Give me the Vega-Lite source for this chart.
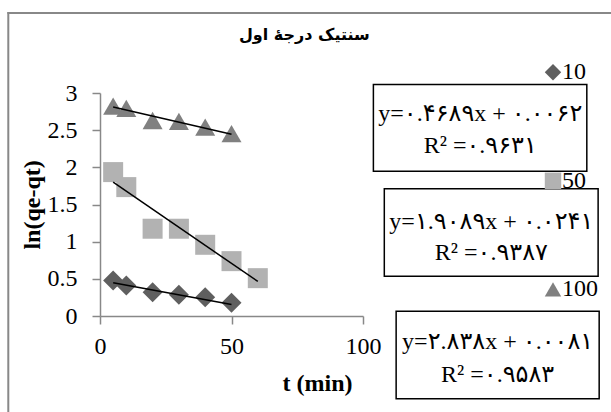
{
  "$schema": "https://vega.github.io/schema/vega-lite/v6.json",
  "width": 263,
  "height": 223,
  "autosize": {"type": "none"},
  "padding": {"left": 100, "top": 93, "right": 248, "bottom": 96},
  "background": "white",
  "config": {
    "view": {"stroke": null},
    "axis": {
      "grid": false, "domainColor": "#888888", "domainWidth": 1.5, "tickColor": "#888888", "tickWidth": 1.5, "tickSize": 8,
      "labelFont": "Liberation Serif", "labelFontSize": 24, "labelColor": "black",
      "labelFlush": false, "labelOverlap": false, "labelBound": false,
      "titleFont": "Liberation Serif", "titleFontSize": 24, "titleFontWeight": "bold", "titleColor": "black",
      "titleAlign": "center", "titleBaseline": "middle"
    },
    "axisX": {"labelPadding": 10, "titleX": 217, "titleY": 67},
    "axisY": {"labelPadding": 15, "titleX": -68, "titleY": 111.4, "titleAngle": -90},
    "legend": {
      "orient": "none", "legendX": 441, "legendY": -32.7, "padding": 0,
      "labelFont": "Liberation Serif", "labelFontSize": 24, "labelColor": "black", "labelOffset": -3,
      "symbolSize": 270, "symbolStrokeWidth": 0, "symbolOpacity": 1, "rowPadding": 84.5, "labelLimit": 0
    }
  },
  "datasets": {
    "points": [
      {"series": "10", "t": 5, "v": 0.478},
      {"series": "10", "t": 10, "v": 0.41},
      {"series": "10", "t": 20, "v": 0.32},
      {"series": "10", "t": 30, "v": 0.285},
      {"series": "10", "t": 40, "v": 0.253},
      {"series": "10", "t": 50, "v": 0.178},
      {"series": "50", "t": 5, "v": 1.936},
      {"series": "50", "t": 10, "v": 1.734},
      {"series": "50", "t": 20, "v": 1.174},
      {"series": "50", "t": 30, "v": 1.174},
      {"series": "50", "t": 40, "v": 0.958},
      {"series": "50", "t": 50, "v": 0.738},
      {"series": "50", "t": 60, "v": 0.509},
      {"series": "100", "t": 5, "v": 2.823},
      {"series": "100", "t": 10, "v": 2.794},
      {"series": "100", "t": 20, "v": 2.63},
      {"series": "100", "t": 30, "v": 2.619},
      {"series": "100", "t": 40, "v": 2.542},
      {"series": "100", "t": 50, "v": 2.453}
    ],
    "trend": [
      {"series": "10", "t": 5, "v": 0.447},
      {"series": "10", "t": 50, "v": 0.155},
      {"series": "50", "t": 5, "v": 1.8},
      {"series": "50", "t": 60, "v": 0.465},
      {"series": "100", "t": 5, "v": 2.811},
      {"series": "100", "t": 50, "v": 2.444}
    ],
    "one": [{}]
  },
  "layer": [
    {
      "data": {"name": "one"},
      "mark": {"type": "rule", "color": "#888888", "strokeWidth": 2},
      "encoding": {"x": {"datum": -34.87}, "y": {"datum": 4.09}, "y2": {"datum": -2}}
    },
    {
      "data": {"name": "one"},
      "mark": {"type": "rule", "color": "#888888", "strokeWidth": 2},
      "encoding": {"y": {"datum": 4.076}, "x": {"datum": -35.2}, "x2": {"datum": 200}}
    },
    {
      "data": {"name": "one"},
      "mark": {"type": "text", "text": "سنتیک درجهٔ اول", "font": "DejaVu Sans", "fontSize": 16, "fontWeight": "bold", "baseline": "middle", "align": "center", "color": "black"},
      "encoding": {"x": {"datum": 77.7}, "y": {"datum": 3.777}}
    },
    {
      "data": {"name": "points"},
      "mark": {"type": "point", "filled": true, "opacity": 1, "size": 400, "strokeWidth": 0},
      "encoding": {
        "x": {
          "field": "t", "type": "quantitative", "title": "t (min)",
          "scale": {"domain": [0, 100], "nice": false, "zero": false},
          "axis": {"values": [0, 50, 100], "format": "~f", "labelOverlap": false}
        },
        "y": {
          "field": "v", "type": "quantitative", "title": "ln(qe-qt)",
          "scale": {"domain": [0, 3], "nice": false, "zero": false},
          "axis": {"values": [0, 0.5, 1, 1.5, 2, 2.5, 3], "format": "~f", "tickCount": 7, "labelOverlap": false}
        },
        "shape": {
          "field": "series", "type": "nominal", "title": null,
          "scale": {"domain": ["10", "50", "100"], "range": ["diamond", "square", "triangle-up"]}
        },
        "color": {
          "field": "series", "type": "nominal", "title": null,
          "scale": {"domain": ["10", "50", "100"], "range": ["#5f5f5f", "#b2b2b2", "#808080"]}
        }
      }
    },
    {
      "data": {"name": "trend"},
      "mark": {"type": "line", "color": "black", "strokeWidth": 1.5},
      "encoding": {
        "x": {"field": "t", "type": "quantitative", "title": "t (min)",
              "axis": {"values": [0, 50, 100], "format": "~f", "labelOverlap": false}},
        "y": {"field": "v", "type": "quantitative", "title": "ln(qe-qt)",
              "axis": {"values": [0, 0.5, 1, 1.5, 2, 2.5, 3], "format": "~f", "tickCount": 7, "labelOverlap": false}},
        "detail": {"field": "series"}
      }
    },
    {
      "data": {"name": "one"},
      "mark": {"type": "rect", "fill": "white", "stroke": "black", "strokeWidth": 1.5},
      "encoding": {"x": {"datum": 103.95}, "x2": {"datum": 185.1}, "y": {"datum": 3.113}, "y2": {"datum": 1.946}}
    },
    {
      "data": {"name": "one"},
      "mark": {"type": "rect", "fill": "white", "stroke": "black", "strokeWidth": 1.5},
      "encoding": {"x": {"datum": 108.1}, "x2": {"datum": 189.4}, "y": {"datum": 1.713}, "y2": {"datum": 0.536}}
    },
    {
      "data": {"name": "one"},
      "mark": {"type": "rect", "fill": "white", "stroke": "black", "strokeWidth": 1.5},
      "encoding": {"x": {"datum": 112.6}, "x2": {"datum": 189.8}, "y": {"datum": 0.065}, "y2": {"datum": -1.113}}
    },
    {
      "data": {"name": "one"},
      "mark": {"type": "text", "text": ["y=۰.۴۶۸۹x + ۰.۰۰۶۲", "R² =۰.۹۶۳۱"], "font": "Liberation Serif, DejaVu Sans", "fontSize": 24, "lineHeight": 32, "baseline": "middle", "align": "center", "color": "black"},
      "encoding": {"x": {"datum": 144.6}, "y": {"datum": 2.713}}
    },
    {
      "data": {"name": "one"},
      "mark": {"type": "text", "text": ["y=۱.۹۰۸۹x + ۰.۰۲۴۱", "R² =۰.۹۳۸۷"], "font": "Liberation Serif, DejaVu Sans", "fontSize": 24, "lineHeight": 31, "baseline": "middle", "align": "center", "color": "black"},
      "encoding": {"x": {"datum": 148.8}, "y": {"datum": 1.266}}
    },
    {
      "data": {"name": "one"},
      "mark": {"type": "text", "text": ["y=۲.۸۳۸x + ۰.۰۰۸۱", "R² =۰.۹۵۸۳"], "font": "Liberation Serif, DejaVu Sans", "fontSize": 24, "lineHeight": 33, "baseline": "middle", "align": "center", "color": "black"},
      "encoding": {"x": {"datum": 151.2}, "y": {"datum": -0.344}}
    }
  ]
}
